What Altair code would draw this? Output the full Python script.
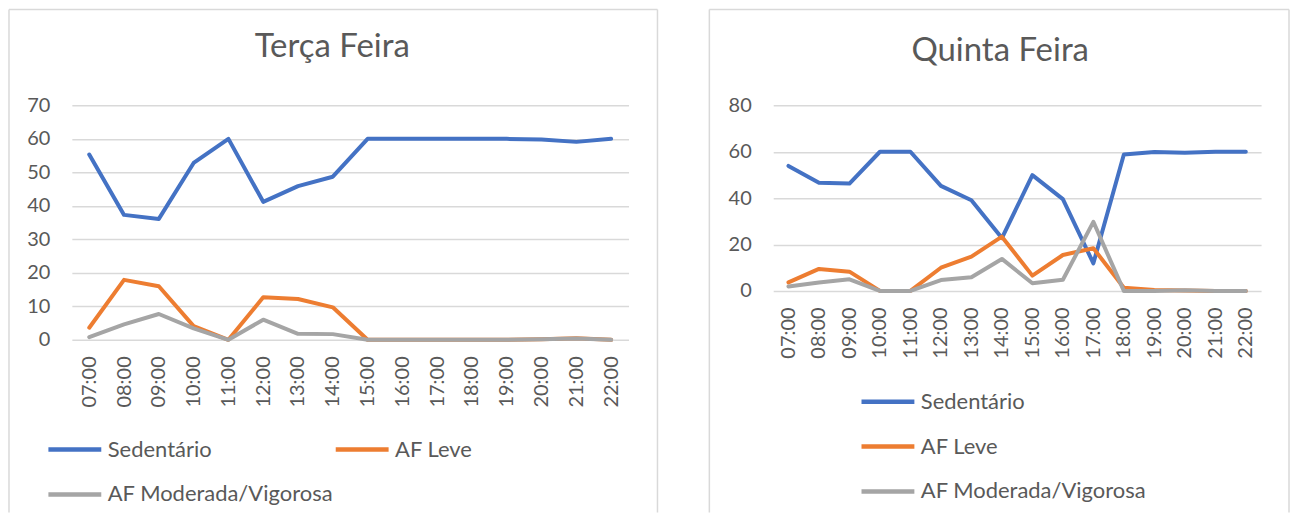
import altair as alt
import pandas as pd

horas = ["07:00", "08:00", "09:00", "10:00", "11:00", "12:00", "13:00", "14:00",
         "15:00", "16:00", "17:00", "18:00", "19:00", "20:00", "21:00", "22:00"]
series = ["Sedentário", "AF Leve", "AF Moderada/Vigorosa"]
cores = ["#4472C4", "#ED7D31", "#A5A5A5"]

terca_sed = [55.3, 37.3, 36.1, 52.8, 60.0, 41.2, 45.9, 48.7, 60.0, 60.0, 60.0, 60.0, 60.0, 59.8, 59.1, 60.0]
terca_leve = [3.6, 17.9, 16.0, 4.1, 0.0, 12.7, 12.2, 9.7, 0.0, 0.0, 0.0, 0.0, 0.0, 0.2, 0.5, 0.0]
terca_mod = [0.8, 4.6, 7.7, 3.4, 0.0, 6.0, 1.8, 1.7, 0.0, 0.0, 0.0, 0.0, 0.0, 0.2, 0.4, 0.0]

quinta_sed = [53.9, 46.6, 46.3, 60.0, 60.0, 45.3, 39.1, 22.8, 49.9, 39.6, 11.9, 58.8, 59.9, 59.6, 60.0, 60.0]
quinta_leve = [3.7, 9.5, 8.3, 0.0, 0.0, 10.0, 14.8, 23.4, 6.6, 15.5, 18.4, 1.4, 0.4, 0.2, 0.0, 0.0]
quinta_mod = [1.9, 3.6, 5.0, 0.0, 0.0, 4.7, 5.9, 13.8, 3.3, 4.8, 29.8, 0.0, 0.0, 0.3, 0.0, 0.0]

FONT = "Lato"
GREY = "#595959"
GRID = "#D9D9D9"


def long_df(valores):
    rows = []
    for s, v in zip(series, valores):
        for h, x in zip(horas, v):
            rows.append({"hora": h, "serie": s, "valor": x})
    return pd.DataFrame(rows)


def frame(L, R, T, B):
    one = pd.DataFrame({"k": [0]})
    base = alt.Chart(one).mark_rule(color=GRID, strokeWidth=1.5)
    left = base.encode(x=alt.value(L), y=alt.value(T), y2=alt.value(B))
    top = base.encode(x=alt.value(L), x2=alt.value(R), y=alt.value(T))
    right = base.encode(x=alt.value(R), y=alt.value(T), y2=alt.value(B))
    return left + top + right


def panel(df, title, ymax, ystep, w, h, title_dx, title_offset, legend, fr):
    lines = alt.Chart(df).mark_line(strokeWidth=4, strokeCap="round", strokeJoin="round").encode(
        x=alt.X("hora:O", sort=horas, scale=alt.Scale(type="point", padding=0.5),
                axis=alt.Axis(title=None, labelAngle=-90, labelFontSize=20, labelColor=GREY,
                              labelFont=FONT, ticks=False, domain=False, labelPadding=16,
                              grid=False)),
        y=alt.Y("valor:Q", scale=alt.Scale(domain=[0, ymax], nice=False),
                axis=alt.Axis(title=None, values=list(range(0, ymax + 1, ystep)), ticks=False,
                              domain=False, labelPadding=22, gridColor=GRID, gridWidth=1.5,
                              labelFontSize=20, labelColor=GREY, labelFont=FONT)),
        color=alt.Color("serie:N", sort=series, scale=alt.Scale(domain=series, range=cores),
                        legend=legend),
    )
    return alt.layer(fr, lines).properties(
        width=w, height=h,
        title=alt.TitleParams(title, font=FONT, fontSize=33, color=GREY, fontWeight="normal",
                              anchor="middle", frame="group", offset=title_offset, dx=title_dx),
    )


common = dict(orient="none", title=None, symbolType="stroke", symbolSize=2809,
              symbolStrokeWidth=4.5, labelFontSize=22, labelFont=FONT, labelColor=GREY,
              labelOffset=4, labelLimit=400, rowPadding=5)

leg_left = alt.Legend(legendX=-26, legendY=316, direction="horizontal", columns=2,
                      columnPadding=-8, **common)
leg_right = alt.Legend(legendX=86, legendY=268, direction="vertical", **common)

p1 = panel(long_df([terca_sed, terca_leve, terca_mod]), "Terça Feira", 70, 10, 558, 235,
           -18, -55, leg_left, frame(-63, 587, -96, 408))
p2 = panel(long_df([quinta_sed, quinta_leve, quinta_mod]), "Quinta Feira", 80, 20, 489, 186,
           -17, -59, leg_right, frame(-64, 517, -96, 408))

chart = alt.hconcat(p1, p2, spacing=50).resolve_scale(color="independent").properties(
    padding=0
).configure_view(stroke=None)

chart.save("out.html", embed_options={"renderer": "svg", "actions": False})
